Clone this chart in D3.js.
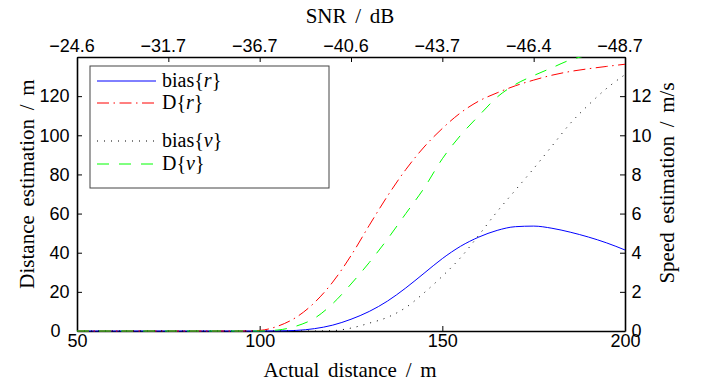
<!DOCTYPE html>
<html>
<head>
<meta charset="utf-8">
<script src="https://cdn.jsdelivr.net/npm/d3@7"></script>
<style>
  body { margin: 0; background: #fff; }
</style>
</head>
<body>
<div id="chart"></div>
<script>
// actual distance (m)
const distance = [50,55,60,65,70,75,80,85,90,95,100,105,110,115,120,125,130,135,140,145,150,155,160,165,170,175,180,185,190,195,200];
// distance estimation (m)
const biasR = [0,0,0,0,0,0,0,0,0,0,0,0.05,0.3,1.2,3,6,10,15.3,22,29.5,37,43.3,48,51.4,53.3,53.6,52.5,50.5,48,45,41.4];
const devR  = [0,0,0,0,0,0,0,0,0,0,0.3,2.5,7,14.5,25,38.5,54,69,82.5,94,103.5,111.5,117.5,121.7,125.3,128.2,130.7,132.6,134,135.2,136.3];
// speed estimation (m/s)
const biasV = [0,0,0,0,0,0,0,0,0,0,0,0,0,0,0.02,0.15,0.4,0.7,1.2,1.95,2.8,3.75,4.9,6.1,7.2,8.3,9.45,10.6,11.55,12.4,13.1];
const devV  = [0,0,0,0,0,0,0,0,0,0,0,0.05,0.25,0.65,1.4,2.4,3.5,4.7,6.0,7.3,8.8,10.0,11.0,11.95,12.6,13.05,13.45,13.85,14.1,14.3,14.45];
// top axis
const snrTicks = [50,75,100,125,150,175,200];
const snrLabels = ["\u221224.6","\u221231.7","\u221236.7","\u221240.6","\u221243.7","\u221246.4","\u221248.7"];

const SANS = '"Liberation Sans", Arimo, Arial, Helvetica, "Noto Sans", sans-serif';
const SERIF = '"Liberation Serif", Tinos, "Times New Roman", Times, "DejaVu Serif", serif';

const W = 701, H = 387;
const margin = { top: 57, right: 76, bottom: 56, left: 77 },
    width = W - margin.left - margin.right,
    height = H - margin.top - margin.bottom;

const svg = d3.select("#chart").append("svg")
    .attr("width", W).attr("height", H)
    .append("g")
    .attr("transform", `translate(${margin.left}, ${margin.top})`);

const x = d3.scaleLinear().domain([50, 200]).range([0, width]);
const yL = d3.scaleLinear().domain([0, 140]).range([height, 0]);
const yR = d3.scaleLinear().domain([0, 14]).range([height, 0]);

// axes (ticks inward)
const axB = svg.append("g").attr("transform", `translate(0, ${height})`)
    .call(d3.axisBottom(x).tickValues([50, 100, 150, 200]).tickSize(-5).tickSizeOuter(0).tickPadding(3));
const axL = svg.append("g")
    .call(d3.axisLeft(yL).tickValues([0, 20, 40, 60, 80, 100, 120]).tickSize(-5).tickSizeOuter(0).tickPadding(7.5));
const axR = svg.append("g").attr("transform", `translate(${width}, 0)`)
    .call(d3.axisRight(yR).tickValues([0, 2, 4, 6, 8, 10, 12]).tickSize(-5).tickSizeOuter(0).tickPadding(6.5));
const axT = svg.append("g")
    .call(d3.axisTop(x).tickValues(snrTicks).tickFormat((d, i) => snrLabels[i]).tickSize(-5).tickSizeOuter(0).tickPadding(5));

[axB, axL, axR, axT].forEach(a => {
    a.select(".domain").attr("stroke", "#000").attr("stroke-width", 1.6);
    a.selectAll(".tick line").attr("stroke", "#000").attr("stroke-width", 1);
    a.selectAll(".tick text")
        .style("font-family", SANS)
        .style("font-size", "18px")
        .attr("fill", "#000");
});
// the 0 of the left axis sits a bit further left, top labels a bit left of their ticks
axL.selectAll(".tick text").filter(d => d === 0).attr("dx", -9);
axT.selectAll(".tick text").attr("dx", -5.5);

// clip (a bit below the axis so the zero parts stay on top of it)
svg.append("defs").append("clipPath").attr("id", "clip")
    .append("rect").attr("width", width).attr("height", height + 1.5);

const plot = svg.append("g").attr("clip-path", "url(#clip)");

const series = [
    { key: "biasR", vals: biasR, y: yL, color: "#0000ff", dash: null },
    { key: "devR", vals: devR, y: yL, color: "#ff0000", dash: "12,4.5,1.5,4.5" },
    { key: "biasV", vals: biasV, y: yR, color: "#000000", dash: "1,6" },
    { key: "devV", vals: devV, y: yR, color: "#00ff00", dash: "12,10" }
];

series.forEach(s => {
    const line = d3.line()
        .x((d, i) => x(distance[i]))
        .y(d => s.y(d))
        .curve(d3.curveMonotoneX);
    plot.append("path")
        .datum(s.vals)
        .attr("fill", "none")
        .attr("stroke", s.color)
        .attr("stroke-width", 1)
        .attr("stroke-dasharray", s.dash)
        .attr("d", line);
});

// axis labels
function label(txt) {
    return svg.append("text")
        .style("font-family", SERIF)
        .style("font-size", "21px")
        .style("word-spacing", "3.5px")
        .attr("fill", "#000")
        .attr("text-anchor", "middle")
        .text(txt);
}

label("Actual distance / m").attr("x", 350 - margin.left).attr("y", 377 - margin.top);
label("SNR / dB").attr("x", 350 - margin.left).attr("y", 23 - margin.top);
label("Distance estimation / m")
    .attr("transform", `translate(${34 - margin.left}, ${184 - margin.top}) rotate(-90)`);
label("Speed estimation / m/s")
    .attr("transform", `translate(${674 - margin.left}, ${183 - margin.top}) rotate(-90)`);

// legend
const legend = svg.append("g").attr("transform", `translate(${90 - margin.left}, ${66 - margin.top})`);
legend.append("rect")
    .attr("width", 239).attr("height", 122)
    .attr("fill", "#fff").attr("stroke", "#444").attr("stroke-width", 1);

const legendItems = [
    { s: series[0], name: "bias", sym: "r", y: 15 },
    { s: series[1], name: "D", sym: "r", y: 37 },
    { s: series[2], name: "bias", sym: "v", y: 75 },
    { s: series[3], name: "D", sym: "v", y: 98 }
];

legendItems.forEach(it => {
    legend.append("line")
        .attr("x1", 7).attr("x2", 66)
        .attr("y1", it.y).attr("y2", it.y)
        .attr("stroke", it.s.color)
        .attr("stroke-width", 1)
        .attr("stroke-dasharray", it.s.dash);
    const t = legend.append("text")
        .style("font-family", SERIF)
        .style("font-size", "20px")
        .attr("fill", "#000")
        .attr("x", 72).attr("y", it.y + 6);
    t.append("tspan").text(it.name + "{");
    t.append("tspan").style("font-style", "italic").text(it.sym);
    t.append("tspan").text("}");
});
</script>
</body>
</html>
